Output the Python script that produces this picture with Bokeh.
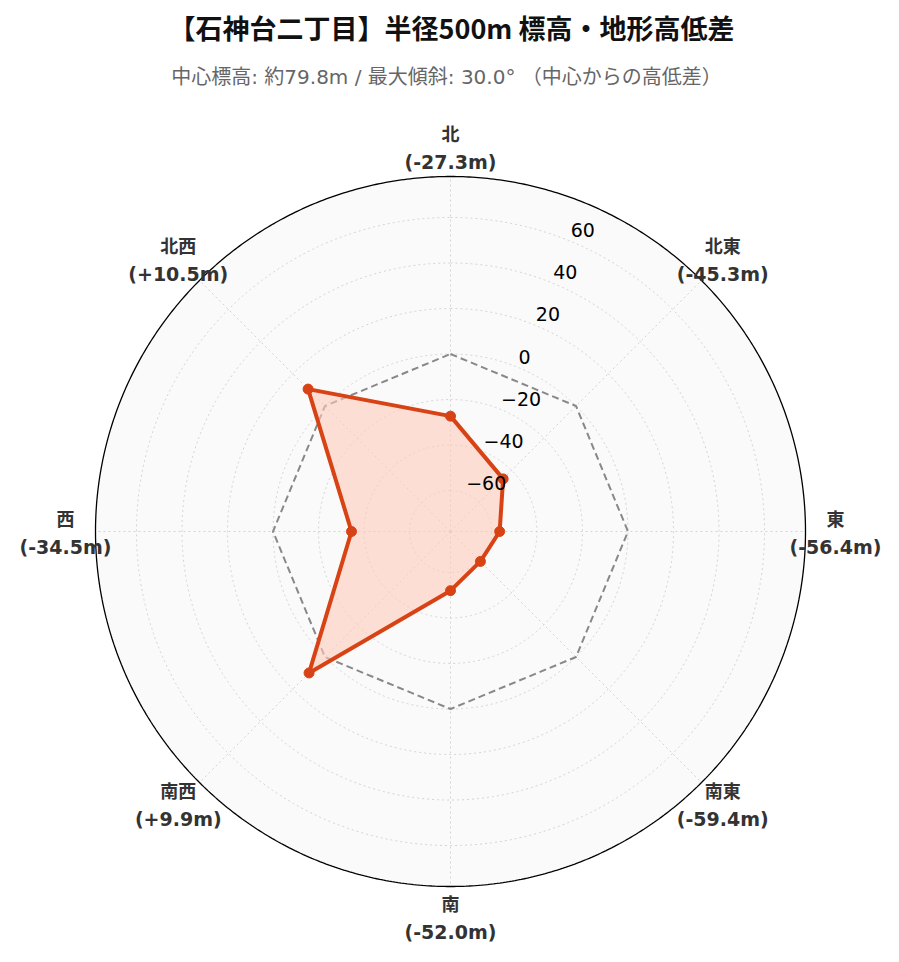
import numpy as np
from bokeh.plotting import figure
from bokeh.models import Range1d
from bokeh.core.properties import value
from bokeh.embed import file_html
from bokeh.resources import INLINE

# ---- data ----
directions = ["北", "北東", "東", "南東", "南", "南西", "西", "北西"]
elev_diff = [-27.3, -45.3, -56.4, -59.4, -52.0, 9.9, -34.5, 10.5]
r_ticks = [-60, -40, -20, 0, 20, 40, 60]
r_lim = [-78.0, 78.0]
title_text = "【石神台二丁目】半径500m 標高・地形高低差"
subtitle_text = "中心標高: 約79.8m / 最大傾斜: 30.0° （中心からの高低差）"

# ---- layout ----
W, H = 899, 960
CX, CY = 450, 531
R = 355.0

def px(x, y):
    return (x - CX) / R, (CY - y) / R

p = figure(width=W, height=H,
           x_range=Range1d(-CX / R, (W - CX) / R),
           y_range=Range1d(-(H - CY) / R, CY / R),
           output_backend="svg", toolbar_location=None, min_border=0,
           x_axis_location=None, y_axis_location=None)
p.grid.visible = False
p.outline_line_color = None
p.background_fill_color = "white"
p.border_fill_color = "white"

def rad(v):
    return (v - r_lim[0]) / (r_lim[1] - r_lim[0])

n = len(directions)
theta = np.deg2rad(np.arange(n) * 360.0 / n)
phi = np.linspace(0, 2 * np.pi, 721)

# background disk
p.patch(np.sin(phi), np.cos(phi), fill_color="#fafafa", line_color=None)

# grid circles
gx = [list(rad(t) * np.sin(phi)) for t in r_ticks]
gy = [list(rad(t) * np.cos(phi)) for t in r_ticks]
p.multi_line(gx, gy, line_color="#d4d4d4", line_width=1, line_dash="2 3")
# spokes
sx = [[0, np.sin(t)] for t in theta]
sy = [[0, np.cos(t)] for t in theta]
p.multi_line(sx, sy, line_color="#d4d4d4", line_width=1, line_dash="2 3")

# zero reference octagon
zr = rad(0)
zx = list(zr * np.sin(theta)) + [zr * np.sin(theta[0])]
zy = list(zr * np.cos(theta)) + [zr * np.cos(theta[0])]
p.line(zx, zy, line_color="#888888", line_width=2, line_dash="7 4")

# data polygon
rv = np.array([rad(v) for v in elev_diff])
dx = rv * np.sin(theta)
dy = rv * np.cos(theta)
p.patch(dx, dy, fill_color="#ffccbc", fill_alpha=0.6, line_color=None)
p.line(list(dx) + [dx[0]], list(dy) + [dy[0]], line_color="#d84315", line_width=4, line_join="round")
p.scatter(dx, dy, size=10, fill_color="#d84315", line_color="#d84315")

# outer circle
p.line(np.sin(phi), np.cos(phi), line_color="black", line_width=1.3)

# radial tick labels
ta = np.deg2rad(22.5)
tl = ["−" + str(abs(t)) if t < 0 else str(t) for t in r_ticks]
p.text([rad(t) * np.sin(ta) for t in r_ticks], [rad(t) * np.cos(ta) for t in r_ticks],
       text=tl, text_align="left", text_baseline="middle", y_offset=-11,
       text_font=value("DejaVu Sans"), text_font_size="19px", text_color="black")

# direction labels
lr = 385.0 / R
lx = lr * np.sin(theta)
ly = lr * np.cos(theta)
p.text(lx, ly, text=directions, text_align="center", text_baseline="middle", y_offset=-14,
       text_font=value("Noto Sans CJK JP"), text_font_style="bold", text_font_size="18px", text_color="#333333")
p.text(lx, ly, text=[f"({v:+.1f}m)" for v in elev_diff], text_align="center", text_baseline="middle", y_offset=15,
       text_font=value("DejaVu Sans"), text_font_style="bold", text_font_size="19px", text_color="#333333")

# titles
tx, ty = px(451, 27)
p.text([tx], [ty], text=[title_text], text_align="center", text_baseline="middle",
       text_font=value("Noto Sans CJK JP"), text_font_style="bold", text_font_size="27px", text_color="#111111")
sx_, sy_ = px(446, 76)
p.text([sx_], [sy_], text=[subtitle_text], text_align="center", text_baseline="middle",
       text_font=value("DejaVu Sans, Noto Sans CJK JP"), text_font_size="20px", text_color="#666666")

open("out.html", "w").write(file_html(p, INLINE))
